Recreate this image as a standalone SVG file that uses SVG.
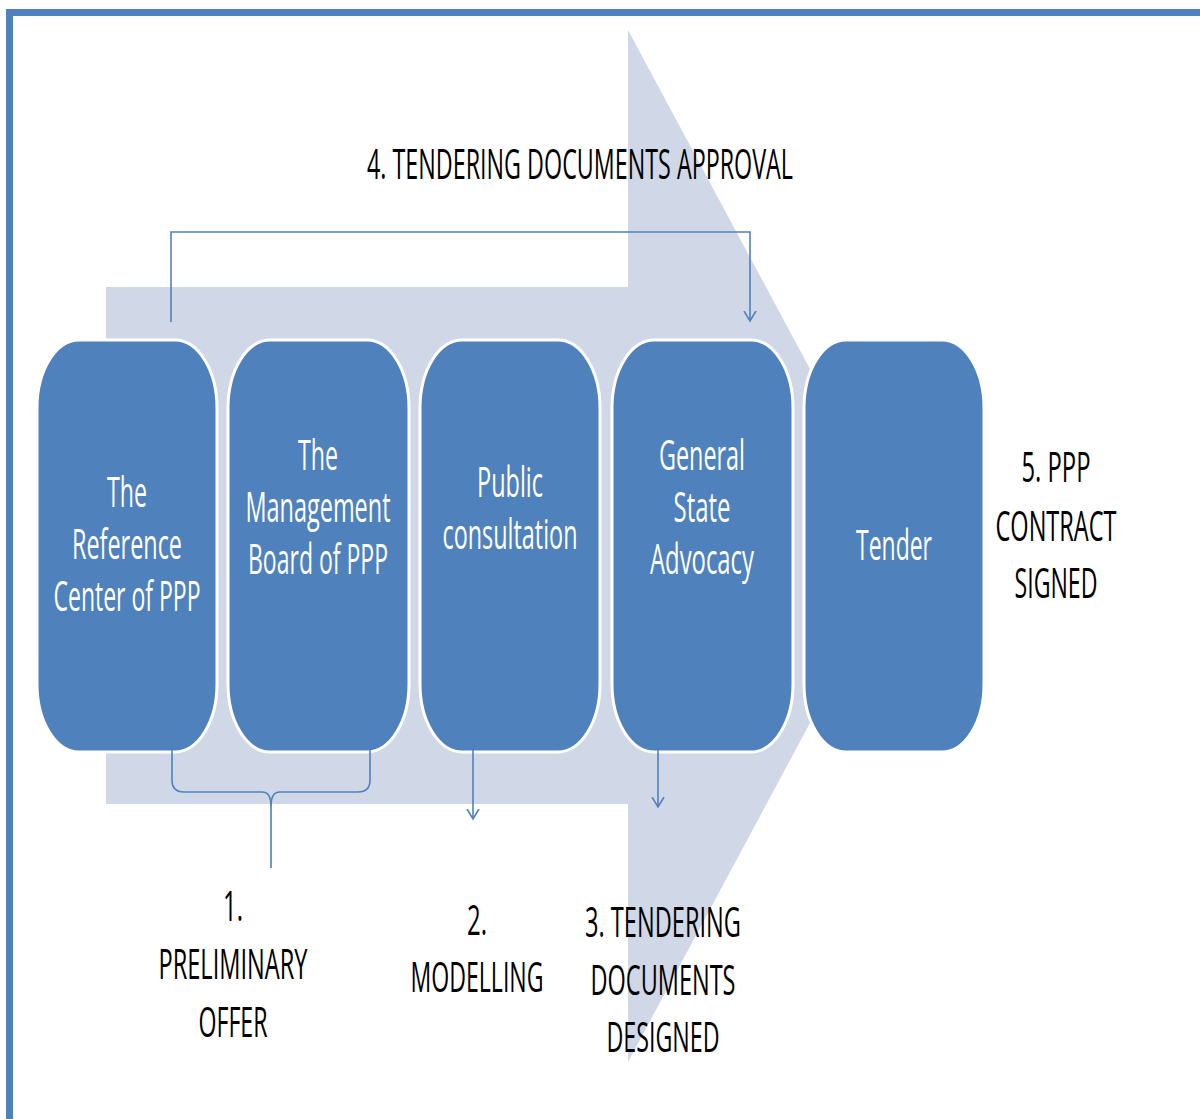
<svg xmlns="http://www.w3.org/2000/svg" width="1200" height="1119" viewBox="0 0 1200 1119">
<style>
.box{fill:#4F81BD;stroke:#FFFFFF;stroke-width:3}
.bt{font-family:"Open Sans","Liberation Sans",Arial,sans-serif;font-size:42px;fill:#FFFFFF;text-anchor:middle}
.lb{font-family:"Open Sans","Liberation Sans",Arial,sans-serif;font-size:42px;fill:#000000;text-anchor:middle}
.con{fill:none;stroke:#4F81BD;stroke-width:1.6}
</style>
<defs>
<marker id="ah" markerWidth="14" markerHeight="14" refX="10" refY="7" orient="auto" markerUnits="userSpaceOnUse">
<path d="M0,1 L10,7 L0,13" fill="none" stroke="#4F81BD" stroke-width="1.6"/>
</marker>
</defs>
<rect x="0" y="0" width="1200" height="1119" fill="#FFFFFF"/>
<rect x="9.5" y="12.5" width="1220" height="1140" fill="none" stroke="#4F81BD" stroke-width="7"/>
<polygon id="bigArrow" points="106,287 628,287 628,30 905,546 628,1062 628,804 106,804" fill="#D0D8E8"/>
<g id="node1">
<rect class="box" x="37" y="340" width="180" height="412" rx="42" ry="68"/>
<text class="bt" x="127" y="507" textLength="40" lengthAdjust="spacingAndGlyphs">The</text>
<text class="bt" x="127" y="559" textLength="110" lengthAdjust="spacingAndGlyphs">Reference</text>
<text class="bt" x="127" y="611" textLength="147" lengthAdjust="spacingAndGlyphs">Center of PPP</text>
</g>
<g id="node2">
<rect class="box" x="228" y="340" width="181" height="412" rx="42" ry="68"/>
<text class="bt" x="318" y="470" textLength="40" lengthAdjust="spacingAndGlyphs">The</text>
<text class="bt" x="318" y="522" textLength="145" lengthAdjust="spacingAndGlyphs">Management</text>
<text class="bt" x="318" y="574" textLength="140" lengthAdjust="spacingAndGlyphs">Board of PPP</text>
</g>
<g id="node3">
<rect class="box" x="420" y="340" width="180" height="412" rx="42" ry="68"/>
<text class="bt" x="510" y="497" textLength="66" lengthAdjust="spacingAndGlyphs">Public</text>
<text class="bt" x="510" y="549" textLength="135" lengthAdjust="spacingAndGlyphs">consultation</text>
</g>
<g id="node4">
<rect class="box" x="612" y="340" width="181" height="412" rx="42" ry="68"/>
<text class="bt" x="702" y="470" textLength="86" lengthAdjust="spacingAndGlyphs">General</text>
<text class="bt" x="702" y="522" textLength="57" lengthAdjust="spacingAndGlyphs">State</text>
<text class="bt" x="702" y="574" textLength="104" lengthAdjust="spacingAndGlyphs">Advocacy</text>
</g>
<g id="node5">
<rect class="box" x="804" y="340" width="180" height="412" rx="42" ry="68"/>
<text class="bt" x="894" y="560" textLength="76" lengthAdjust="spacingAndGlyphs">Tender</text>
</g>
<g id="connectors">
<path class="con" d="M171,322 L171,232 L750,232 L750,321" marker-end="url(#ah)"/>
<path class="con" d="M172,718 L172,780 Q172,792 184,792 L262,792 Q271,792 271,806 L271,868"/>
<path class="con" d="M370,718 L370,780 Q370,792 358,792 L280,792 Q271,792 271,806"/>
<path class="con" d="M473,700 L473,819" marker-end="url(#ah)"/>
<path class="con" d="M658,688 L658,807" marker-end="url(#ah)"/>
</g>
<g id="labels">
<text class="lb" x="580" y="179" textLength="426" lengthAdjust="spacingAndGlyphs">4. TENDERING DOCUMENTS APPROVAL</text>
<text class="lb" x="1056" y="482" textLength="69" lengthAdjust="spacingAndGlyphs">5. PPP</text>
<text class="lb" x="1056" y="541" textLength="121" lengthAdjust="spacingAndGlyphs">CONTRACT</text>
<text class="lb" x="1056" y="598" textLength="83" lengthAdjust="spacingAndGlyphs">SIGNED</text>
<text class="lb" x="233" y="921" textLength="20" lengthAdjust="spacingAndGlyphs">1.</text>
<text class="lb" x="233" y="979" textLength="149" lengthAdjust="spacingAndGlyphs">PRELIMINARY</text>
<text class="lb" x="233" y="1037" textLength="69" lengthAdjust="spacingAndGlyphs">OFFER</text>
<text class="lb" x="477" y="935" textLength="20" lengthAdjust="spacingAndGlyphs">2.</text>
<text class="lb" x="477" y="992" textLength="133" lengthAdjust="spacingAndGlyphs">MODELLING</text>
<text class="lb" x="663" y="937" textLength="156" lengthAdjust="spacingAndGlyphs">3. TENDERING</text>
<text class="lb" x="663" y="995" textLength="145" lengthAdjust="spacingAndGlyphs">DOCUMENTS</text>
<text class="lb" x="663" y="1052" textLength="113" lengthAdjust="spacingAndGlyphs">DESIGNED</text>
</g>
</svg>
